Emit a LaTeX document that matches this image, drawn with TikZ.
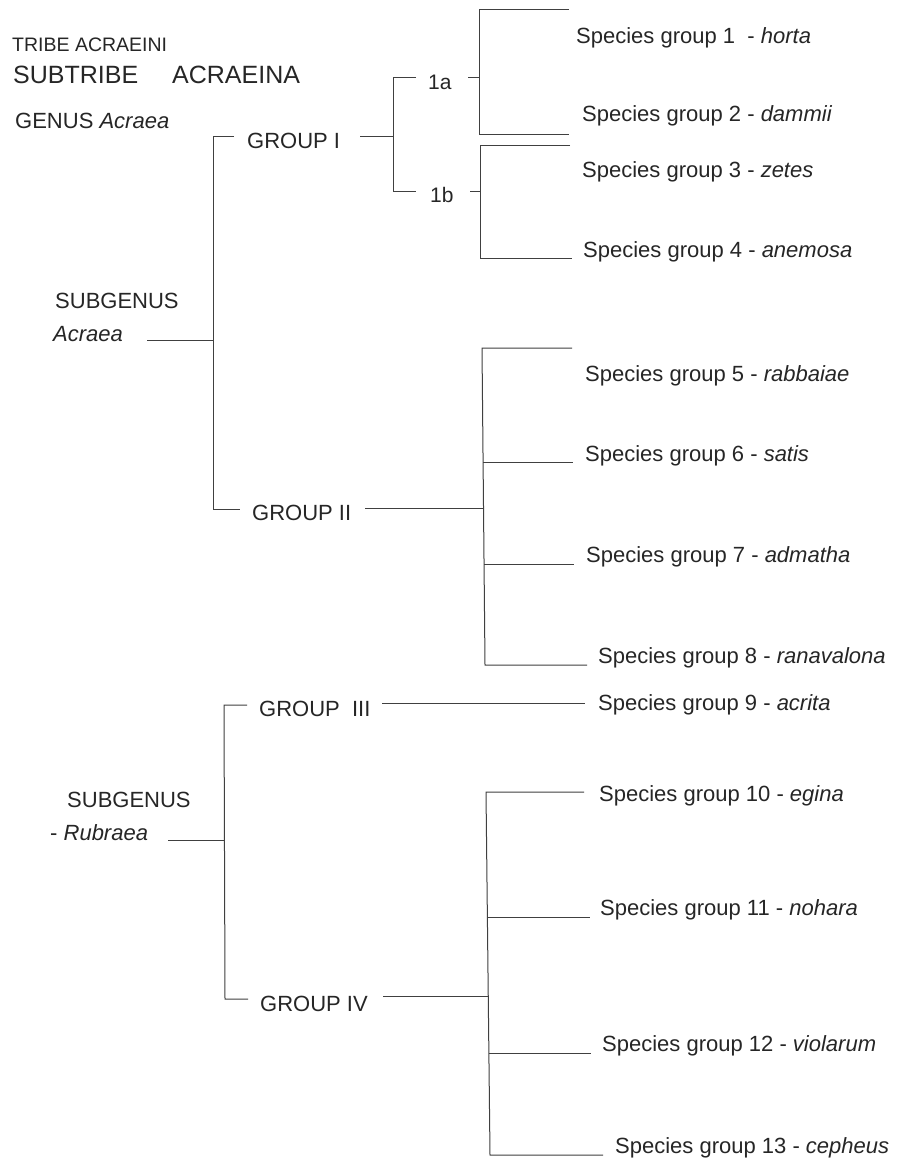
\documentclass[tikz,border=0pt]{standalone}
\usepackage{fontspec}
\setmainfont{Liberation Sans}
\begin{document}
\begin{tikzpicture}[x=1pt,y=-1pt,
  lbl/.style={anchor=base west,inner sep=0pt,text=black!85,font=\fontsize{22}{24}\selectfont},
  big/.style={lbl,font=\fontsize{25}{28}\selectfont},
  small/.style={lbl,font=\fontsize{19.5}{22}\selectfont},
  ln/.style={draw=black!75,line width=1pt}]
\useasboundingbox[fill=white] (0,0) rectangle (897,1158);

% ---- header texts
\node[small] (tribe) at (12,51.7) {TRIBE ACRAEINI};
\node[big] (subtribe) at (13,83.3) {SUBTRIBE};
\node[big] (acraeina) at (172,83.3) {ACRAEINA};
\node[lbl] (genus) at (15,128.3) {GENUS \textit{Acraea}};

% ---- subgenus / groups
\node[lbl] (sgA) at (55,308.3) {SUBGENUS};
\node[lbl] (sgAn) at (53,341.7) {\textit{Acraea}};
\node[lbl] (sgR) at (67,807.3) {SUBGENUS};
\node[lbl] (sgRn) at (50,840.7) {- \textit{Rubraea}};
\node[lbl] (g1) at (247,148.3) {GROUP I};
\node[lbl] (g2) at (252,520.7) {GROUP II};
\node[lbl] (g3) at (259,716.7) {GROUP\ \ III};
\node[lbl] (g4) at (260,1011.7) {GROUP IV};
\node[lbl,font=\fontsize{21}{23}\selectfont] (s1a) at (428,90) {1a};
\node[lbl,font=\fontsize{21}{23}\selectfont] (s1b) at (430,203) {1b};

% ---- species groups
\node[lbl] (sp1) at (576,43.3) {Species group 1\ \ - \textit{horta}};
\node[lbl] (sp2) at (582,121.7) {Species group 2 - \textit{dammii}};
\node[lbl] (sp3) at (582,177.7) {Species group 3 - \textit{zetes}};
\node[lbl] (sp4) at (583,257.7) {Species group 4 - \textit{anemosa}};
\node[lbl] (sp5) at (585,381.7) {Species group 5 - \textit{rabbaiae}};
\node[lbl] (sp6) at (585,461) {Species group 6 - \textit{satis}};
\node[lbl] (sp7) at (586,562.7) {Species group 7 - \textit{admatha}};
\node[lbl] (sp8) at (598,663.3) {Species group 8 - \textit{ranavalona}};
\node[lbl] (sp9) at (598,710) {Species group 9 - \textit{acrita}};
\node[lbl] (sp10) at (599,801.7) {Species group 10 - \textit{egina}};
\node[lbl] (sp11) at (600,915) {Species group 11 - \textit{nohara}};
\node[lbl] (sp12) at (602,1051.7) {Species group 12 - \textit{violarum}};
\node[lbl] (sp13) at (615,1153.3) {Species group 13 - \textit{cepheus}};

% ---- junction coordinates
\coordinate (jA) at (213,340);
\coordinate (jAt) at (213,137);
\coordinate (jAb) at (213,509);
\coordinate (jR) at (225,840);
\coordinate (jRt) at (224,705);
\coordinate (jRb) at (225,999);
\coordinate (j1) at (393,137);
\coordinate (j1t) at (393,78);
\coordinate (j1b) at (393,192);
\coordinate (ja) at (479,78);
\coordinate (jat) at (479,10);
\coordinate (jab) at (479,135);
\coordinate (jb) at (480,192);
\coordinate (jbt) at (480,146);
\coordinate (jbb) at (480,258);
\coordinate (j2) at (483,508);
\coordinate (j2t) at (482,348);
\coordinate (j2b) at (485,665);
\coordinate (j4) at (488,996);
\coordinate (j4t) at (486,792);
\coordinate (j4b) at (490,1155);

% ---- subgenus Acraea
\draw[ln] (147,340) -- (jA);
\draw[ln] (234,137) -- (jAt) -- (jAb) -- (240,509);
% ---- group I
\draw[ln] (360,137) -- (j1);
\draw[ln] (416,78) -- (j1t) -- (j1b) -- (416,192);
\draw[ln] (468,78) -- (ja);
\draw[ln] (569,10) -- (jat) -- (jab) -- (569,135);
\draw[ln] (470,192) -- (jb);
\draw[ln] (570,146) -- (jbt) -- (jbb) -- (572,258);
% ---- group II
\draw[ln] (365,508) -- (j2);
\draw[ln] (572,348) -- (j2t) -- (j2b) -- (587,665);
\draw[ln] (483,462) -- (573,462);
\draw[ln] (484,564) -- (574,564);
% ---- subgenus Rubraea
\draw[ln] (168,840) -- (jR);
\draw[ln] (247,705) -- (jRt) -- (jRb) -- (248,999);
% ---- group III
\draw[ln] (382,703) -- (585,703);
% ---- group IV
\draw[ln] (383,996) -- (j4);
\draw[ln] (584,792) -- (j4t) -- (j4b) -- (603,1155);
\draw[ln] (487,917) -- (590,917);
\draw[ln] (489,1053) -- (591,1053);
\end{tikzpicture}
\end{document}
